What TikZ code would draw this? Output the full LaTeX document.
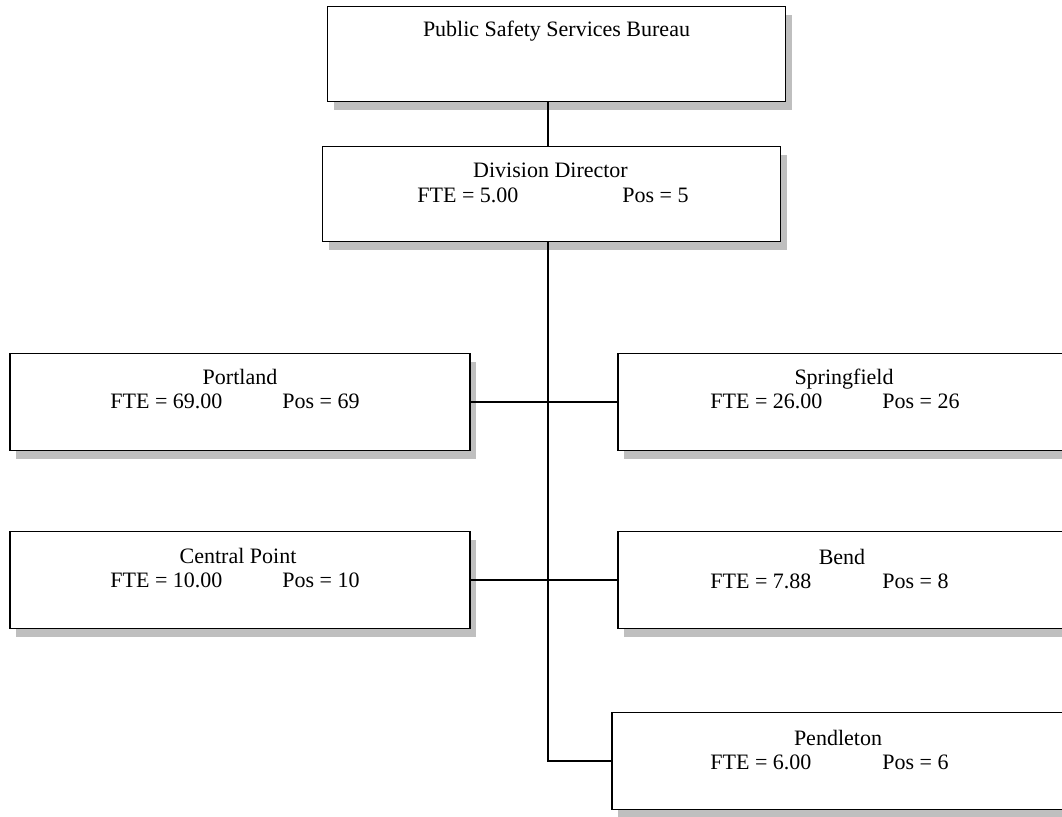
\documentclass[tikz,border=0pt]{standalone}
\usepackage{fontspec}
\setmainfont{Liberation Serif}
\usetikzlibrary{shadows}
\tikzset{ %
  ,every node/.style={font=\fontsize{11pt}{13pt}\selectfont}
  ,unit/.style={draw, line width=0.9pt, fill=white, inner sep=0,
     drop shadow={shadow xshift=3pt, shadow yshift=-4.5pt, fill=black!25, opacity=1}}
  ,head/.style={unit, minimum width=229pt, minimum height=47.5pt}
  ,office/.style={unit, minimum width=230pt, minimum height=48.5pt}
  ,title/.style={inner sep=0, anchor=base}
  ,info/.style={inner sep=0, anchor=base west}
  ,link/.style={line width=0.7pt}
}
\newcommand{\ftepos}[3]{\makebox[#1][l]{FTE = #2}Pos = #3}

\begin{document}
\begin{tikzpicture}[x=0.5pt, y=-0.5pt]
      \useasboundingbox (0,0) rectangle (1062,817);
      \clip (0,0) rectangle (1062,817);
      \draw
      node[head] (bureau) at (556.5,54) {}
      node[head] (director) at (551.5,194) {}
      node[office] (portland) at (240,402) {}
      node[office] (springfield) at (848,402) {}
      node[office] (central) at (240,580) {}
      node[office] (bend) at (848,580) {}
      node[office] (pendleton) at (842,761) {};
      \draw
      node[title] (bureau-t) at (556.5,37) {Public Safety Services Bureau}
      node[title] (director-t) at (550.5,178) {Division Director}
      node[info] (director-i) at (417,203) {\ftepos{102.5pt}{5.00}{5}}
      node[title] (portland-t) at (240,385) {Portland}
      node[info] (portland-i) at (110,409) {\ftepos{86pt}{69.00}{69}}
      node[title] (springfield-t) at (844,385) {Springfield}
      node[info] (springfield-i) at (710,409) {\ftepos{86pt}{26.00}{26}}
      node[title] (central-t) at (238,564) {Central Point}
      node[info] (central-i) at (110,588) {\ftepos{86pt}{10.00}{10}}
      node[title] (bend-t) at (842,565) {Bend}
      node[info] (bend-i) at (710,589) {\ftepos{86pt}{7.88}{8}}
      node[title] (pendleton-t) at (838,746) {Pendleton}
      node[info] (pendleton-i) at (710,770) {\ftepos{86pt}{6.00}{6}};
      \coordinate (top) at (548,0);
      \draw [link] (top |- bureau.south) -- (top |- director.north);
      \draw [link] (top |- director.south) |- (pendleton.west);
      \draw [link] (portland.east) -- (springfield.west) (central.east) -- (bend.west);
    \end{tikzpicture}
\end{document}
